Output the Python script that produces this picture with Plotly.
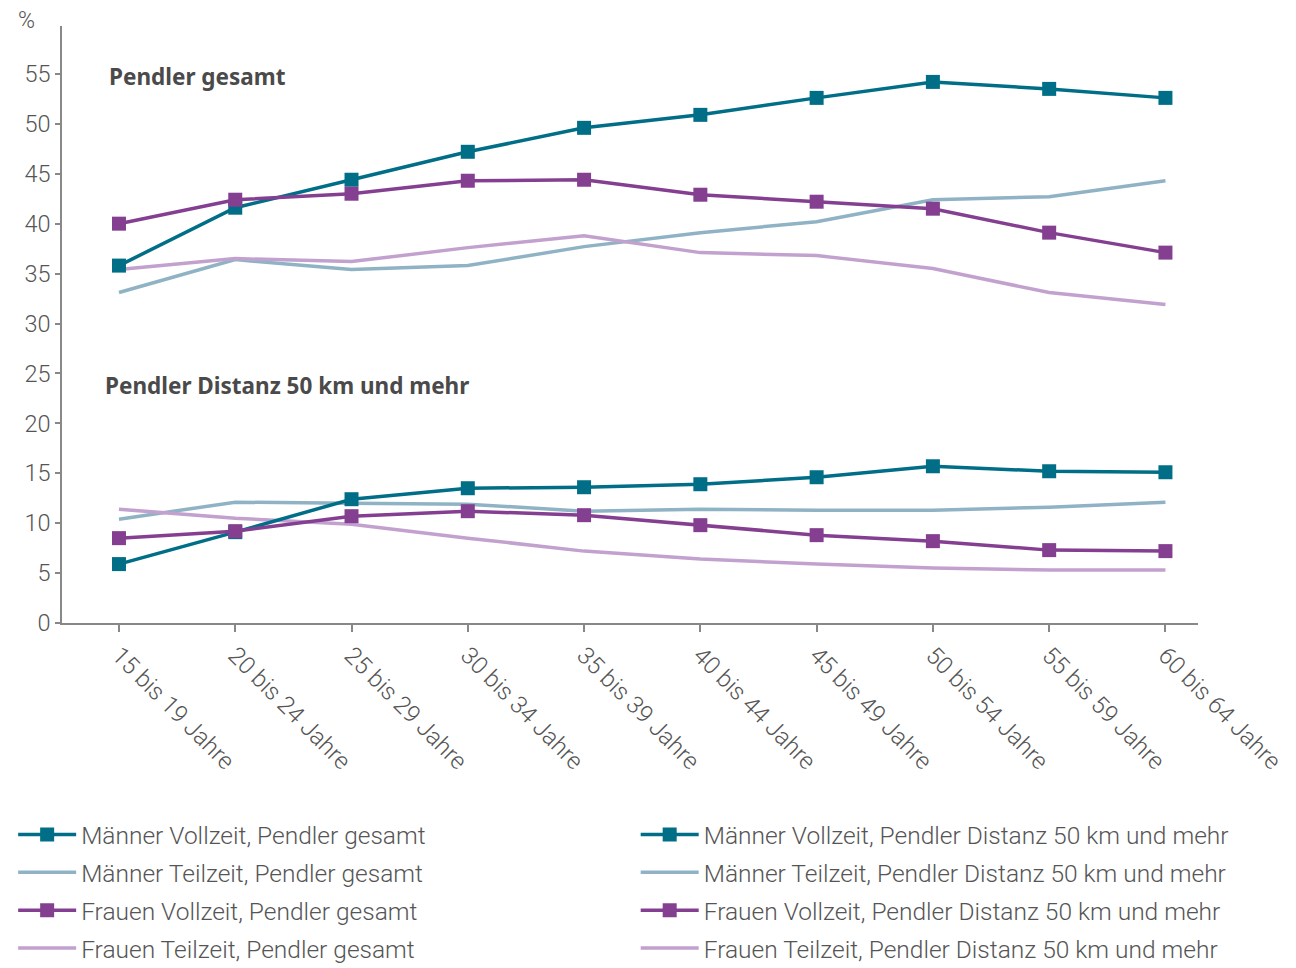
import plotly.graph_objects as go

categories = ["15 bis 19 Jahre", "20 bis 24 Jahre", "25 bis 29 Jahre", "30 bis 34 Jahre",
              "35 bis 39 Jahre", "40 bis 44 Jahre", "45 bis 49 Jahre", "50 bis 54 Jahre",
              "55 bis 59 Jahre", "60 bis 64 Jahre"]

maenner_vollzeit_gesamt = [35.8, 41.6, 44.4, 47.2, 49.6, 50.9, 52.6, 54.2, 53.5, 52.6]
maenner_teilzeit_gesamt = [33.1, 36.4, 35.4, 35.8, 37.7, 39.1, 40.2, 42.4, 42.7, 44.3]
frauen_vollzeit_gesamt = [40.0, 42.4, 43.0, 44.3, 44.4, 42.9, 42.2, 41.5, 39.1, 37.1]
frauen_teilzeit_gesamt = [35.4, 36.5, 36.2, 37.6, 38.8, 37.1, 36.8, 35.5, 33.1, 31.9]

maenner_vollzeit_50km = [5.9, 9.1, 12.4, 13.5, 13.6, 13.9, 14.6, 15.7, 15.2, 15.1]
maenner_teilzeit_50km = [10.4, 12.1, 12.0, 11.9, 11.2, 11.4, 11.3, 11.3, 11.6, 12.1]
frauen_vollzeit_50km = [8.5, 9.2, 10.7, 11.2, 10.8, 9.8, 8.8, 8.2, 7.3, 7.2]
frauen_teilzeit_50km = [11.4, 10.5, 9.9, 8.5, 7.2, 6.4, 5.9, 5.5, 5.3, 5.3]

TEAL = "#006e87"
LIGHTBLUE = "#8fb3c4"
PURPLE = "#843f91"
LIGHTPURPLE = "#c2a1cf"
TEXT = "#555555"
FONT = "Roboto"
BOLDFONT = "Noto Sans"

series = [
    ("Männer Vollzeit, Pendler gesamt", maenner_vollzeit_gesamt, TEAL, True, "legend"),
    ("Männer Teilzeit, Pendler gesamt", maenner_teilzeit_gesamt, LIGHTBLUE, False, "legend"),
    ("Frauen Vollzeit, Pendler gesamt", frauen_vollzeit_gesamt, PURPLE, True, "legend"),
    ("Frauen Teilzeit, Pendler gesamt", frauen_teilzeit_gesamt, LIGHTPURPLE, False, "legend"),
    ("Männer Vollzeit, Pendler Distanz 50 km und mehr", maenner_vollzeit_50km, TEAL, True, "legend2"),
    ("Männer Teilzeit, Pendler Distanz 50 km und mehr", maenner_teilzeit_50km, LIGHTBLUE, False, "legend2"),
    ("Frauen Vollzeit, Pendler Distanz 50 km und mehr", frauen_vollzeit_50km, PURPLE, True, "legend2"),
    ("Frauen Teilzeit, Pendler Distanz 50 km und mehr", frauen_teilzeit_50km, LIGHTPURPLE, False, "legend2"),
]

fig = go.Figure()
order = [1, 3, 5, 7, 0, 2, 4, 6]
for i in order:
    name, vals, color, markers, leg = series[i]
    fig.add_trace(go.Scatter(
        x=categories, y=vals, name=name,
        mode="lines+markers" if markers else "lines",
        line=dict(color=color, width=3.5),
        marker=dict(symbol="square", size=14, color=color) if markers else None,
        legend=leg, legendgroup=name, legendrank=i,
    ))

legend_common = dict(
    yref="container", y=1 - 812 / 968, xanchor="left", yanchor="top",
    orientation="v", font=dict(size=24.5, color=TEXT, family=FONT, weight=300),
    tracegroupgap=3, bgcolor="rgba(0,0,0,0)", traceorder="grouped",
    itemwidth=58,
)

fig.update_layout(
    width=1296, height=968,
    margin=dict(l=62, r=98, t=26, b=345, autoexpand=False),
    paper_bgcolor="white", plot_bgcolor="white",
    font=dict(family=FONT, color=TEXT, size=22, weight=300),
    xaxis=dict(
        type="category", range=[-0.49, 9.28],
        showline=True, linecolor="#888888", linewidth=1.5,
        ticks="outside", ticklen=7, tickcolor="#888888", tickwidth=1.5,
        tickangle=45, tickfont=dict(size=24, color=TEXT, family=FONT, weight=300),
        showgrid=False, zeroline=False,
    ),
    yaxis=dict(
        range=[0, 59.8], tickvals=list(range(0, 60, 5)),
        showline=True, linecolor="#888888", linewidth=1.5,
        ticks="outside", ticklen=5, tickcolor="#888888", tickwidth=1.5,
        tickfont=dict(size=23.5, color=TEXT, family=FONT, weight=300),
        showgrid=False, zeroline=False,
    ),
    legend=dict(x=-0.043, **legend_common),
    legend2=dict(x=0.505, **legend_common),
    showlegend=True,
)

fig.add_annotation(text="%", xref="paper", yref="paper", x=-0.031, y=1.0, yshift=6,
                   xanchor="center", yanchor="middle", showarrow=False,
                   font=dict(size=23, color=TEXT, family=FONT, weight=300))
fig.add_annotation(text="<b>Pendler gesamt</b>", xref="x", yref="y", x=-0.1, y=54.7,
                   xanchor="left", yanchor="middle", showarrow=False,
                   font=dict(size=22.5, color="#4a4a4a", family=BOLDFONT))
fig.add_annotation(text="<b>Pendler Distanz 50 km und mehr</b>", xref="x", yref="y", x=-0.14, y=23.8,
                   xanchor="left", yanchor="middle", showarrow=False,
                   font=dict(size=22.5, color="#4a4a4a", family=BOLDFONT))

fig.write_html("out.html")
